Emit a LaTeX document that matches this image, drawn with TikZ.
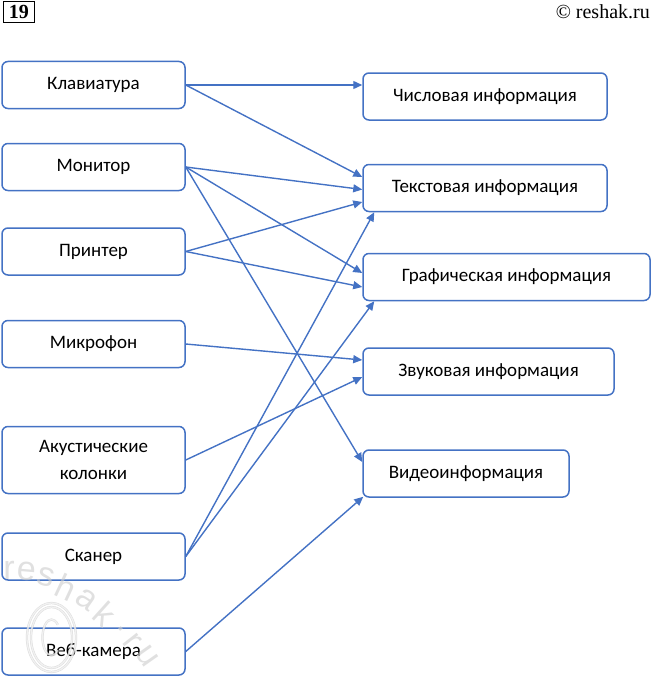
\documentclass[tikz,border=0pt]{standalone}
\usepackage{fontspec}
\setmainfont{Carlito}
\newfontfamily\hdrfont{Liberation Serif}
\newfontfamily\wmfont{Liberation Sans}
\usetikzlibrary{calc,arrows.meta}
\definecolor{lnblue}{HTML}{4472C4}
\tikzset{
  box/.style={draw=lnblue, line width=1.5pt, rounded corners=6pt, fill=white,
    minimum height=47pt, inner sep=0pt, font=\fontsize{19}{22}\selectfont, text=black, align=center},
  lbox/.style={box, minimum width=183pt},
  conn/.style={draw=lnblue, line width=1.4pt, -{Triangle[length=9pt,width=8pt]}},
  wm/.style={text=gray!40, font=\wmfont\fontsize{34}{34}\selectfont, inner sep=0pt},
  wmline/.style={draw=gray!45, line width=0.5pt, double=white, double distance=1.3pt}
}
\begin{document}
\begin{tikzpicture}[x=1pt,y=-1pt]
\useasboundingbox (0,0) rectangle (652,677);
% header
\node[draw=black, line width=1.2pt, inner sep=1.5pt, minimum width=31pt, minimum height=21pt,
  font=\hdrfont\bfseries\fontsize{20}{20}\selectfont] (num) at (19,12) {19};
\node[anchor=east, inner sep=0pt, font=\hdrfont\fontsize{20}{20}\selectfont] (copy) at (650,12) {© reshak.ru};
% left boxes
\node[lbox] (klav) at (93.5,85) {Клавиатура};
\node[lbox] (mon) at (93.5,167) {Монитор};
\node[lbox] (prn) at (93.5,251.5) {Принтер};
\node[lbox] (mic) at (93.5,344) {Микрофон};
\node[lbox, minimum height=67pt] (akus) at (93.5,460) {Акустические\\[5pt]колонки};
\node[lbox] (scan) at (93.5,556.5) {Сканер};
\node[lbox] (web) at (93.5,651.5) {Веб-камера};
% right boxes
\node[box, minimum width=244pt] (chis) at (485,96.5) {Числовая информация};
\node[box, minimum width=244pt] (tekst) at (485,188) {Текстовая информация};
\node[box, minimum width=287pt] (graf) at (506.5,277) {Графическая информация};
\node[box, minimum width=251pt] (zvuk) at (488.5,371.5) {Звуковая информация};
\node[box, minimum width=206pt] (video) at (466,473.5) {Видеоинформация};
% connectors
\draw[conn] (klav.east) -- ($(chis.west)+(0,-11.5)$);
\draw[conn] (klav.east) -- ($(tekst.west)+(0,-11)$);
\draw[conn] (mon.east) -- ($(tekst.west)+(0,1.5)$);
\draw[conn] (mon.east) -- ($(graf.west)+(0,-4)$);
\draw[conn] (mon.east) -- ($(video.west)+(0,-11.5)$);
\draw[conn] (prn.east) -- ($(tekst.west)+(0,14)$);
\draw[conn] (prn.east) -- ($(graf.west)+(0,10)$);
\draw[conn] (mic.east) -- ($(zvuk.west)+(0,-11.5)$);
\draw[conn] (akus.east) -- ($(zvuk.west)+(0,5.5)$);
\draw[conn] (scan.east) -- ($(tekst.south west)+(12,0)$);
\draw[conn] (scan.east) -- ($(graf.south west)+(12,0)$);
\draw[conn] (web.east) -- ($(video.south west)+(1,-1)$);
% watermark
\begin{scope}[opacity=0.6]
\draw[wmline] (51.5,637.5) ellipse [x radius=24.5, y radius=34.5];
\draw[wmline] (51.5,637.5) ellipse [x radius=20.5, y radius=30.5];
\draw[wmline] ($(51.5,637.5)+(45:9 and 18)$) arc [start angle=45, end angle=315, x radius=9, y radius=18];
\node[wm, rotate=0] (w1) at (9,570) {r};
\node[wm, rotate=-5] (w2) at (27,571) {e};
\node[wm, rotate=-15] (w3) at (46,577) {s};
\node[wm, rotate=-25] (w4) at (66,587) {h};
\node[wm, rotate=-35] (w5) at (86,600) {a};
\node[wm, rotate=-42] (w6) at (105,614) {k};
\node[wm, rotate=-50] (w7) at (121,629) {.};
\node[wm, rotate=-52] (w8) at (132,641) {r};
\node[wm, rotate=-55] (w9) at (147,656) {u};
\end{scope}
\end{tikzpicture}
\end{document}
